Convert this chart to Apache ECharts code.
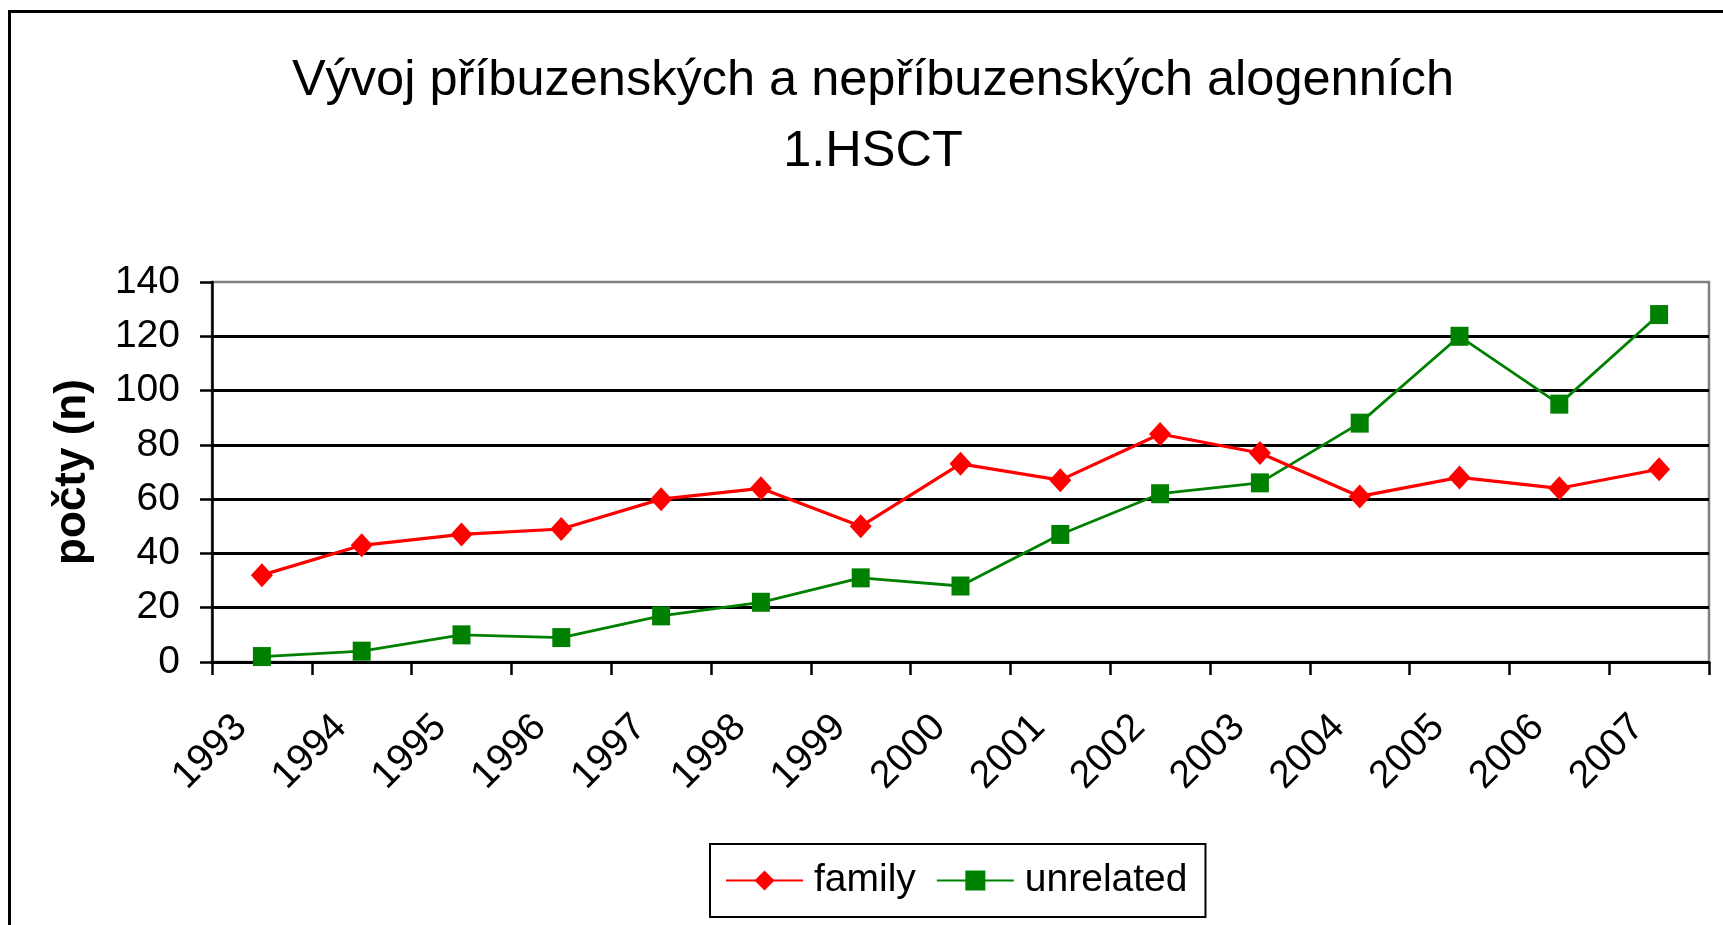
<!DOCTYPE html>
<html>
<head>
<meta charset="utf-8">
<script src="https://cdn.jsdelivr.net/npm/echarts@6/dist/echarts.min.js"></script>
<style>
html,body{margin:0;padding:0;background:#fff;}
#chart{width:1723px;height:925px;}
</style>
</head>
<body>
<div id="chart"></div>
<script>
const years = ['1993','1994','1995','1996','1997','1998','1999','2000','2001','2002','2003','2004','2005','2006','2007'];
const family = [32, 43, 47, 49, 60, 64, 50, 73, 67, 84, 77, 61, 68, 64, 71];
const unrelated = [2, 4, 10, 9, 17, 22, 31, 28, 47, 62, 66, 88, 120, 95, 128];
const titleLines = ['Vývoj příbuzenských a nepříbuzenských alogenních', '1.HSCT'];
const yName = 'počty (n)';
const seriesNames = ['family', 'unrelated'];

const FONT = "'Liberation Sans', Arial, sans-serif";
const chart = echarts.init(document.getElementById('chart'), null, {renderer: 'canvas'});
chart.setOption({
  backgroundColor: '#ffffff',
  animation: false,
  textStyle: {fontFamily: FONT, color: '#000'},
  graphic: [
    {type: 'rect', z: 100, silent: true,
     shape: {x: 9.5, y: 11.5, width: 3000, height: 3000},
     style: {fill: 'none', stroke: '#000', lineWidth: 3}},
    {type: 'text', x: 873, y: 81, style: {text: titleLines[0], font: "50.5px " + FONT, fill: '#000', textAlign: 'center', textVerticalAlign: 'middle'}},
    {type: 'text', x: 873, y: 152, style: {text: titleLines[1], font: "50.5px " + FONT, fill: '#000', textAlign: 'center', textVerticalAlign: 'middle'}}
  ],
  grid: {left: 212, right: 14, top: 282, bottom: 263, show: true, backgroundColor: '#fff',
         borderColor: '#808080', borderWidth: 2.5, outerBoundsMode: 'none', containLabel: false},
  legend: {
    left: 710, top: 844,
    orient: 'horizontal',
    borderColor: '#000', borderWidth: 2, borderRadius: 0,
    padding: [17, 18, 17, 15],
    itemWidth: 77, itemHeight: 25, itemGap: 20,
    textStyle: {fontSize: 39, fontFamily: FONT, color: '#000', padding: [0, 0, 0, 6]},
    data: seriesNames
  },
  xAxis: {
    type: 'category',
    data: years,
    boundaryGap: true,
    axisLine: {show: true, lineStyle: {color: '#000', width: 3}},
    axisTick: {show: true, length: 13, lineStyle: {color: '#000', width: 2.5}},
    axisLabel: {interval: 0, rotate: 45, margin: 38, fontSize: 39, fontFamily: FONT, color: '#000', padding: [0, 30, 0, 0], hideOverlap: false},
    splitLine: {show: false}
  },
  yAxis: {
    type: 'value',
    min: 0, max: 140, interval: 20,
    name: yName,
    nameLocation: 'middle',
    nameGap: 117,
    nameTextStyle: {fontSize: 44, fontWeight: 'bold', fontFamily: FONT, color: '#000'},
    axisLine: {show: true, lineStyle: {color: '#000', width: 2.5}},
    axisTick: {show: true, length: 12, lineStyle: {color: '#000', width: 2.5}},
    axisLabel: {fontSize: 39, fontFamily: FONT, color: '#000', margin: 32},
    splitLine: {show: true, showMaxLine: false, lineStyle: {color: '#000', width: 3}}
  },
  series: [
    {name: seriesNames[0], type: 'line', data: family,
     symbol: 'diamond', symbolSize: [22, 24],
     lineStyle: {color: '#ff0000', width: 3.2},
     itemStyle: {color: '#ff0000'}, z: 3},
    {name: seriesNames[1], type: 'line', data: unrelated,
     symbol: 'rect', symbolSize: [18, 19],
     lineStyle: {color: '#008000', width: 2.8},
     itemStyle: {color: '#008000'}, z: 2}
  ]
});
</script>
</body>
</html>
